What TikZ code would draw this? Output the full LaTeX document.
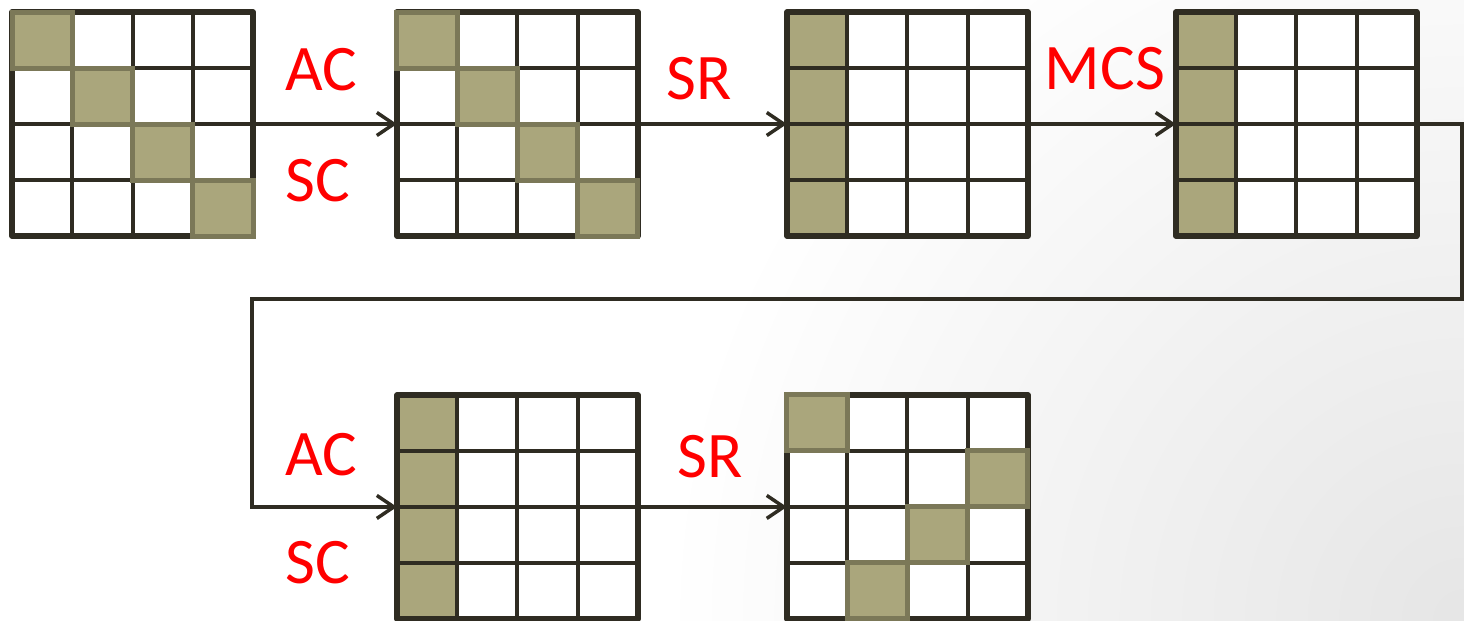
\documentclass[tikz,border=0pt]{standalone}
\usepackage{fontspec}
\setmainfont{Carlito}
\usepackage{xcolor}
\usepackage{tikz}
\usetikzlibrary{arrows.meta, positioning, calc}

\definecolor{gridline}{HTML}{2F2C22}
\definecolor{olive}{HTML}{AAA67C}
\definecolor{oliveedge}{HTML}{7B7858}
\definecolor{labelred}{HTML}{FF0000}

% inner lines and frame of a 4x4 state grid
\newcommand{\gridlines}[1]{%
  \foreach \k in {1,2,3} {
    \draw[inner] ($(#1.north west)+(\k*60.25,0)$) -- ($(#1.south west)+(\k*60.25,0)$);
    \draw[inner] ($(#1.north west)+(0,\k*56)$) -- ($(#1.north east)+(0,\k*56)$);
  }
  \draw[frame] (#1.north west) rectangle (#1.south east);
}
% one cell (col,row) of a grid
\newcommand{\cellat}[4]{%
  \path[#4] ($(#1.north west)+(#2*60.25,#3*56)$) rectangle ++(60.25,56);
}

\begin{document}
\begin{tikzpicture}[
    x=0.02cm, y=-0.02cm,
    mat/.style={rectangle, fill=white, outer sep=0pt, inner sep=0pt, minimum width=4.82cm, minimum height=4.48cm},
    inner/.style={draw=gridline, line width=0.08cm},
    frame/.style={draw=gridline, line width=0.11cm, line join=round},
    cell/.style={fill=olive, draw=oliveedge, line width=0.1cm},
    colfill/.style={fill=olive},
    lbl/.style={text=labelred, font=\fontsize{37pt}{40pt}\selectfont, inner sep=0pt},
    arrow/.style={draw=gridline, line width=0.07cm, -{Straight Barb[length=0.34cm, width=0.46cm]}},
]
\useasboundingbox (0,0) rectangle (1464,620);
% soft grey in the lower right corner
\begin{scope}
  \clip (0,0) rectangle (1464,620);
  \shade[inner color=black!10, outer color=white] (1464,620) circle[radius=16cm];
\end{scope}

% Nodes
\node[mat] (g1) at (132.5,124) {};
\node[mat, right=2.88cm of g1] (g2) {};
\node[mat, right=2.98cm of g2] (g3) {};
\node[mat, right=2.96cm of g3] (g4) {};
\node[mat, below=3.18cm of g2] (g5) {};
\node[mat, right=2.98cm of g5] (g6) {};

% Cells
\gridlines{g1}
\foreach \i in {0,...,3} {\cellat{g1}{\i}{\i}{cell}}
\gridlines{g2}
\foreach \i in {0,...,3} {\cellat{g2}{\i}{\i}{cell}}
\foreach \i in {0,...,3} {\cellat{g3}{0}{\i}{colfill}}
\gridlines{g3}
\foreach \i in {0,...,3} {\cellat{g4}{0}{\i}{colfill}}
\gridlines{g4}
\foreach \i in {0,...,3} {\cellat{g5}{0}{\i}{colfill}}
\gridlines{g5}
\gridlines{g6}
\cellat{g6}{0}{0}{cell}
\cellat{g6}{3}{1}{cell}
\cellat{g6}{2}{2}{cell}
\cellat{g6}{1}{3}{cell}

% Labels
\node[lbl] (ac1) at (321,70) {AC};
\node[lbl] (sc1) at (318,181) {SC};
\node[lbl] (sr1) at (699,79) {SR};
\node[lbl] (mcs) at (1105,69) {MCS};
\node[lbl] (ac2) at (321,455) {AC};
\node[lbl] (sc2) at (318,563) {SC};
\node[lbl] (sr2) at (710,457) {SR};

% Arrows
\coordinate (turnR) at (1462,299);
\coordinate (turnL) at (252,299);
\draw[arrow] (g1) -- (g2);
\draw[arrow] (g2) -- (g3);
\draw[arrow] (g3) -- (g4);
\draw[arrow] (g4.east) -| (turnR) -- (turnL) |- (g5.west);
\draw[arrow] (g5) -- (g6);

\end{tikzpicture}
\end{document}
